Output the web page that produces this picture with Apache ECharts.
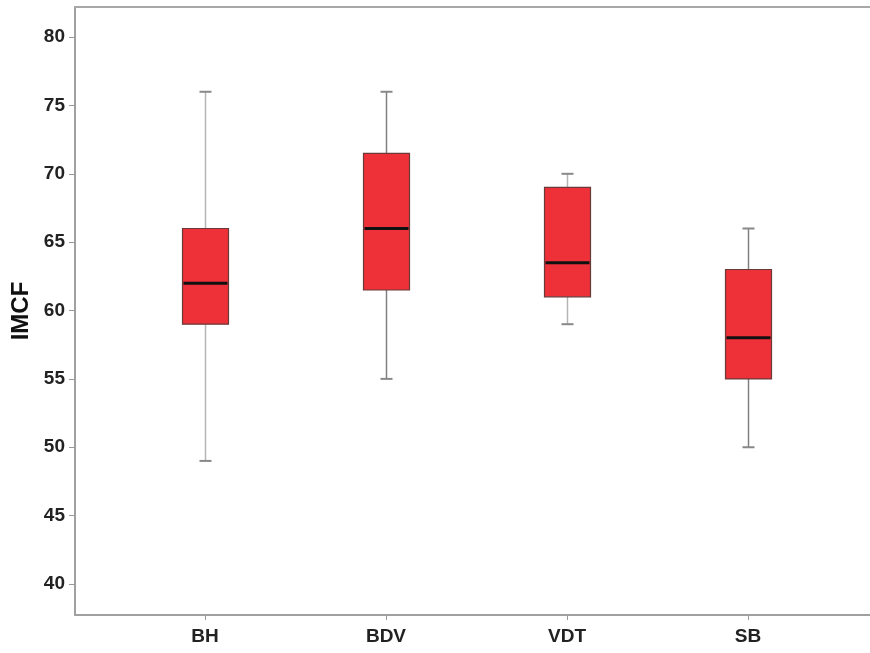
<!DOCTYPE html>
<html>
<head>
<meta charset="utf-8">
<script src="https://cdn.jsdelivr.net/npm/echarts@6/dist/echarts.min.js"></script>
<style>
  html, body { margin: 0; padding: 0; background: #fff; }
  #chart { width: 870px; height: 653px; }
</style>
</head>
<body>
<div id="chart"></div>
<script>
const categories = ['BH', 'BDV', 'VDT', 'SB']
const xPos = [1, 2, 3, 4]
// [min, Q1, median, Q3, max]
const lowWhisker = [49, 55, 59, 50]
const q1 = [59, 61.5, 61, 55]
const median = [62, 66, 63.5, 58]
const q3 = [66, 71.5, 69, 63]
const highWhisker = [76, 76, 70, 66]
const yTicks = [40, 45, 50, 55, 60, 65, 70, 75, 80]

const whiskerColors = ['#b4b4b4', '#808080', '#b4b4b4', '#808080']

const boxData = xPos.map((x, i) => [x, lowWhisker[i], q1[i], median[i], q3[i], highWhisker[i]])

const chart = echarts.init(document.getElementById('chart'))

const labelFont = { color: '#222', fontWeight: 'bold', fontSize: 19, fontFamily: 'Liberation Sans, Arial, sans-serif' }
const xMin = 0.282
const xMax = 4.674

chart.setOption({
  animation: false,
  grid: {
    left: 75, top: 7, right: 0, bottom: 38,
    outerBoundsMode: 'none',
    containLabel: false
  },
  xAxis: [{
    type: 'value',
    min: xMin,
    max: xMax,
    splitLine: { show: false },
    axisLine: { lineStyle: { color: '#a0a0a0', width: 2 } },
    axisTick: { customValues: xPos, length: 5, lineStyle: { color: '#999' } },
    axisLabel: {
      customValues: xPos,
      formatter: (v) => categories[Math.round(v) - 1] || '',
      margin: 12,
      ...labelFont
    }
  }, {
    // top frame line only
    type: 'value',
    position: 'top',
    min: xMin,
    max: xMax,
    splitLine: { show: false },
    axisLine: { show: true, lineStyle: { color: '#a8a8a8', width: 2 } },
    axisTick: { show: false },
    axisLabel: { show: false }
  }],
  yAxis: {
    type: 'value',
    min: 37.73,
    max: 82.2,
    name: 'IMCF',
    nameLocation: 'middle',
    nameGap: 40,
    nameTextStyle: { color: '#111', fontWeight: 'bold', fontSize: 24, fontFamily: 'Liberation Sans, Arial, sans-serif' },
    splitLine: { show: false },
    axisLine: { show: true, lineStyle: { color: '#a0a0a0', width: 2 } },
    axisTick: { customValues: yTicks, length: 6, lineStyle: { color: '#999' } },
    axisLabel: { customValues: yTicks, margin: 10, ...labelFont }
  },
  series: [{
    type: 'custom',
    xAxisIndex: 0,
    data: boxData,
    encode: { x: 0, y: [1, 2, 3, 4, 5] },
    renderItem: (params, api) => {
      const x = api.value(0)
      const pMin = api.coord([x, api.value(1)])
      const pQ1 = api.coord([x, api.value(2)])
      const pMed = api.coord([x, api.value(3)])
      const pQ3 = api.coord([x, api.value(4)])
      const pMax = api.coord([x, api.value(5)])
      const cx = Math.round(pMed[0]) + 0.5
      const half = 23
      const cap = 6
      const wc = whiskerColors[params.dataIndex]
      const wStyle = { stroke: wc, lineWidth: 1.5 }
      return {
        type: 'group',
        children: [
          { type: 'line', shape: { x1: cx, y1: pMax[1], x2: cx, y2: pQ3[1] }, style: wStyle },
          { type: 'line', shape: { x1: cx, y1: pQ1[1], x2: cx, y2: pMin[1] }, style: wStyle },
          { type: 'line', shape: { x1: cx - cap, y1: pMax[1], x2: cx + cap, y2: pMax[1] }, style: { stroke: '#888', lineWidth: 2 } },
          { type: 'line', shape: { x1: cx - cap, y1: pMin[1], x2: cx + cap, y2: pMin[1] }, style: { stroke: '#888', lineWidth: 2 } },
          {
            type: 'rect',
            shape: { x: cx - half, y: pQ3[1], width: half * 2, height: pQ1[1] - pQ3[1] },
            style: { fill: '#ee3038', stroke: '#6a3a3a', lineWidth: 1.2 }
          },
          { type: 'line', shape: { x1: cx - half + 1, y1: pMed[1], x2: cx + half - 1, y2: pMed[1] }, style: { stroke: '#111', lineWidth: 3 } }
        ]
      }
    }
  }]
})
</script>
</body>
</html>
